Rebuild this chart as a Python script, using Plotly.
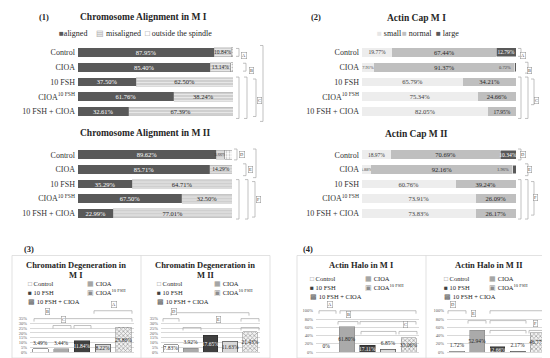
import plotly.graph_objects as go

W, H = 550, 358
FONT = "Liberation Serif"

groups = ["Control", "CIOA", "10 FSH", "CIOA<sup>10 FSH</sup>", "10 FSH + CIOA"]

# Chromosome alignment (%)
ca1_aligned = [87.95, 85.40, 37.50, 61.76, 32.61]
ca1_misaligned = [10.84, 13.14, 62.50, 38.24, 67.39]
ca1_outside = [1.21, 1.46, 0, 0, 0]
ca2_aligned = [89.62, 85.71, 35.29, 67.50, 22.99]
ca2_misaligned = [5.66, 14.29, 64.71, 32.50, 77.01]
ca2_outside = [4.72, 0, 0, 0, 0]

# Actin cap (%)
ac1_small = [19.77, 7.91, 65.79, 75.34, 82.05]
ac1_normal = [67.44, 91.37, 34.21, 24.66, 17.95]
ac1_large = [12.79, 0.72, 0, 0, 0]
ac2_small = [18.97, 5.88, 60.76, 73.91, 73.83]
ac2_normal = [70.69, 92.16, 39.24, 26.09, 26.17]
ac2_large = [10.34, 1.96, 0, 0, 0]

# Chromatin degeneration (%)
cd1 = [3.49, 3.44, 11.84, 8.22, 25.86]
cd2 = [7.83, 3.92, 17.65, 11.63, 21.43]
# Actin halo (%)
ah1 = [0, 61.80, 17.11, 6.85, 35.06]
ah2 = [1.72, 52.94, 12.66, 2.17, 46.77]


def px(x):
    return x / W


def py(y):
    return 1 - y / H


axes_spec = {
    1: ([70, 225], [35.5, 110.5]),
    2: ([70, 224], [139.5, 213.5]),
    3: ([354, 508], [35.5, 110.5]),
    4: ([354, 508], [139.5, 213.5]),
    5: ([22, 126], [313, 347]),
    6: ([153, 252], [313, 347]),
    7: ([308, 411], [305, 347]),
    8: ([439, 540], [305, 347]),
}

fig = go.Figure()


def fmt(v):
    return "0%" if v == 0 else f"{v:.2f}%"


def tsize(v):
    return 6.5 if v >= 20 else (5.5 if v >= 10 else 4.5)


def hstack(n, series):
    for vals, color, pattern, tcol, min_label, line in series:
        pts = [(g, v) for g, v in zip(groups, vals) if v > 0]
        ys = [g for g, _ in pts]
        xs = [v for _, v in pts]
        labelled = [min_label is not None and v > min_label for v in xs]
        kw = {}
        if any(labelled):
            kw = dict(
                text=[fmt(v) if ok else "" for v, ok in zip(xs, labelled)],
                textposition=["inside" if ok else "none" for ok in labelled],
                insidetextanchor="middle", constraintext="none", textangle=0,
                insidetextfont=dict(size=[tsize(v) for v in xs], color=tcol, family=FONT),
            )
        fig.add_trace(go.Bar(
            y=ys, x=xs, orientation="h", width=0.6,
            xaxis=f"x{n}", yaxis=f"y{n}",
            marker=dict(color=color, pattern=pattern, line=line),
            hoverinfo="x+y", showlegend=False, **kw,
        ))


aligned_c = "#595959"
mis_pat = dict(shape="-", fgcolor="#ffffff", bgcolor="#cfcfcf", size=3, solidity=0.35)
out_pat = dict(shape=".", fgcolor="#808080", bgcolor="#ffffff", size=3, solidity=0.3)
noline = dict(width=0)
outline = dict(width=0.5, color="#7f7f7f")
misline = dict(width=0.4, color="#a6a6a6")

hstack(1, [
    (ca1_aligned, aligned_c, None, "white", 0, noline),
    (ca1_misaligned, "#cfcfcf", mis_pat, "#262626", 0, misline),
    (ca1_outside, "#ffffff", out_pat, "#262626", None, outline),
])
hstack(2, [
    (ca2_aligned, aligned_c, None, "white", 0, noline),
    (ca2_misaligned, "#cfcfcf", mis_pat, "#262626", 0, misline),
    (ca2_outside, "#ffffff", out_pat, "#262626", None, outline),
])
small_c, normal_c, large_c = "#ededed", "#bfbfbf", "#595959"
hstack(3, [
    (ac1_small, small_c, None, "#404040", 0, noline),
    (ac1_normal, normal_c, None, "#262626", 0, noline),
    (ac1_large, large_c, None, "white", 5, dict(width=0.5, color="white")),
])
hstack(4, [
    (ac2_small, small_c, None, "#404040", 0, noline),
    (ac2_normal, normal_c, None, "#262626", 0, noline),
    (ac2_large, large_c, None, "white", 5, dict(width=0.5, color="white")),
])

bstyles = [
    dict(color="white", line=dict(color="#7f7f7f", width=0.8)),
    dict(color="#a6a6a6", line=dict(color="#7f7f7f", width=0.5),
         pattern=dict(shape="|", fgcolor="#bdbdbd", bgcolor="#a6a6a6", size=2, solidity=0.3)),
    dict(color="#404040", line=dict(color="#262626", width=0.5)),
    dict(color="#d9d9d9", line=dict(color="#595959", width=0.8)),
    dict(color="#d9d9d9", line=dict(color="#7f7f7f", width=0.5),
         pattern=dict(shape="x", fgcolor="#595959", bgcolor="#f2f2f2", size=3, solidity=0.45)),
]
btext = ["#262626", "#262626", "white", "#262626", "#262626"]


def vbars(n, vals, thresh):
    for i, (g, v) in enumerate(zip(groups, vals)):
        fig.add_trace(go.Bar(
            x=[g], y=[v], width=0.74, xaxis=f"x{n}", yaxis=f"y{n}",
            marker=bstyles[i], text=[fmt(v)],
            textposition="inside" if v >= thresh else "outside",
            textangle=0, insidetextanchor="middle", constraintext="none",
            insidetextfont=dict(size=5.5, color=btext[i], family=FONT),
            outsidetextfont=dict(size=5.5, color="#262626", family=FONT),
            cliponaxis=False, showlegend=False,
        ))


vbars(5, cd1, 7)
vbars(6, cd2, 7)
vbars(7, ah1, 12)
vbars(8, ah2, 12)

layout = dict(
    width=W, height=H, margin=dict(l=0, r=0, t=0, b=0),
    paper_bgcolor="white", plot_bgcolor="white", barmode="stack",
    showlegend=False, font=dict(family=FONT, color="#262626"),
)
for n, (xd, yd) in axes_spec.items():
    xa = dict(domain=[px(xd[0]), px(xd[1])], anchor=f"y{n}")
    ya = dict(domain=[py(yd[1]), py(yd[0])], anchor=f"x{n}")
    if n <= 4:
        xa.update(range=[0, 100], visible=False, fixedrange=True)
        ya.update(type="category", categoryorder="array", categoryarray=groups,
                  autorange="reversed", showgrid=False, ticks="",
                  tickfont=dict(size=8, color="#333333", family=FONT), ticklabelstandoff=2)
    else:
        xa.update(type="category", categoryorder="array", categoryarray=groups,
                  range=[-0.5, 4.5], showticklabels=False, showgrid=False,
                  showline=True, linecolor="#d9d9d9", linewidth=0.8, ticks="")
        if n in (5, 6):
            ya.update(range=[0, 35], dtick=5)
        else:
            ya.update(range=[0, 100], dtick=20)
        ya.update(ticksuffix="%", tickfont=dict(size=4.5, color="#595959", family=FONT),
                  gridcolor="#d9d9d9", gridwidth=0.6, zeroline=False, showline=False,
                  ticks="", ticklabelstandoff=2)
    key = "" if n == 1 else str(n)
    layout["xaxis" + key] = xa
    layout["yaxis" + key] = ya
fig.update_layout(**layout)

shapes = []
annots = []
BR = dict(color="#a6a6a6", width=0.7)


def line(x0, y0, x1, y1, ln=BR):
    shapes.append(dict(type="line", xref="paper", yref="paper",
                       x0=px(x0), y0=py(y0), x1=px(x1), y1=py(y1), line=ln))


def vbr(x, y1, y2, t=3):
    line(x - t, y1, x, y1)
    line(x, y1, x, y2)
    line(x, y2, x - t, y2)


def hbr(x1, x2, y, t=3):
    line(x1, y + t, x1, y)
    line(x1, y, x2, y)
    line(x2, y, x2, y + t)


def letter(s, x, y):
    annots.append(dict(text=s, x=px(x), y=py(y), xref="paper", yref="paper",
                       showarrow=False, font=dict(size=4.5, color="#404040", family=FONT),
                       bordercolor="#8c8c8c", borderwidth=0.5, borderpad=0.5, bgcolor="white"))


def text(s, x, y, size=7, xanchor="left", color="#262626"):
    annots.append(dict(text=s, x=px(x), y=py(y), xref="paper", yref="paper",
                       showarrow=False, xanchor=xanchor, yanchor="middle",
                       font=dict(size=size, color=color, family=FONT)))


# significance brackets, panel (1)
vbr(231, 39, 47); letter("A", 236, 43)
vbr(238, 54, 62); letter("B", 243, 58)
vbr(231, 68, 110); vbr(239, 68, 110)
vbr(248, 70, 108); letter("C", 251, 88)
vbr(255, 36, 113)
vbr(229, 141, 152); letter("D", 234, 147)
vbr(238, 156, 168); letter("E", 242, 162)
vbr(248, 141, 170)
vbr(231, 172, 212); vbr(240, 172, 212)
vbr(247, 174, 210); letter("F", 250, 192)
# panel (2)
vbr(513, 39, 47); letter("A", 518, 43)
vbr(520, 53, 64); letter("B", 524, 58)
vbr(513, 68, 110); vbr(520, 68, 110)
vbr(526, 70, 96); letter("C", 531, 88)
vbr(513, 141, 152); letter("D", 518, 147)
vbr(520, 156, 168); letter("E", 524, 162)
vbr(513, 172, 212); vbr(520, 172, 212)
vbr(526, 174, 208); letter("F", 530, 190)
# panel (3)
hbr(26, 124, 313); letter("B", 37, 309)
hbr(86, 124, 305); letter("A", 103, 302)
hbr(45, 63, 320); letter("C", 53, 317)
hbr(66, 83, 320)
hbr(155, 171, 313); letter("D", 163, 309)
hbr(163, 241, 307)
hbr(175, 193, 322); letter("E", 211, 317)
hbr(233, 251, 313); hbr(233, 251, 322)
# panel (4)
hbr(311, 328, 305); letter("A", 322, 302)
hbr(332, 408, 305)
hbr(330, 350, 316); letter("B", 340, 312)
hbr(352, 408, 316)
hbr(353, 388, 326); hbr(391, 409, 326); letter("C", 400, 322)
hbr(440, 458, 305); letter("D", 448, 302)
hbr(482, 538, 305)
hbr(460, 478, 315); letter("E", 468, 311)
hbr(482, 518, 315)
hbr(482, 518, 325); hbr(521, 538, 325); letter("F", 530, 321)

# boxes around panels (3) and (4)
BOX = dict(color="#d9d9d9", width=0.8)
for x0, x1, xm in [(4, 262, 133), (289, 545, 418)]:
    shapes.append(dict(type="rect", xref="paper", yref="paper", x0=px(x0), x1=px(x1),
                       y0=py(353), y1=py(249), line=BOX))
    line(xm, 249, xm, 353, BOX)


def title(s, x, y, size=9.5):
    text(f"<b>{s}</b>", x, y, size=size, xanchor="center")


title("(1)", 36, 7, 8.5)
title("(2)", 308, 7, 8.5)
title("(3)", 21, 242, 8.5)
title("(4)", 300, 242, 8.5)
title("Chromosome Alignment in M I", 135, 7)
title("Chromosome Alignment in M II", 137, 125)
title("Actin Cap M I", 408, 8)
title("Actin Cap M II", 408, 126)
title("Chromatin Degeneration in", 68, 259, 8.5)
title("M I", 68, 269, 8.5)
title("Chromatin Degeneration in", 197, 259, 8.5)
title("M II", 197, 269, 8.5)
title("Actin Halo in M I", 353, 259, 8.5)
title("Actin Halo in M II", 481, 259, 8.5)


def sym(ch, color):
    return f'<span style="color:{color}">{ch}</span>'


# top legends
text(sym("■", "#595959") + "aligned", 49, 24, 8)
text(sym("▤", "#a6a6a6") + " misaligned", 86, 24, 8)
text(sym("□", "#8c8c8c") + " outside the spindle", 135, 24, 8)
text(sym("■", "#e6e6e6") + " small", 367, 24, 8)
text(sym("■", "#bfbfbf") + " normal", 392, 24, 8)
text(sym("■", "#595959") + " large", 426, 24, 8)

# bottom legends
lsym = [sym("□", "#7f7f7f"), sym("▦", "#8c8c8c"), sym("■", "#404040"),
        sym("▣", "#8c8c8c"), sym("▩", "#595959")]
for xl, xr, rows in [(18, 77, (277, 286, 296)), (147, 204, (277, 286, 296)),
                     (300, 355, (272, 281, 291)), (434, 479, (272, 281, 291))]:
    for i, g in enumerate(groups):
        xx = xl if i % 2 == 0 else xr
        text(lsym[i] + " " + g, xx, rows[i // 2], 6.5)

# small labels for the thin "large" segments in Actin Cap (data coords)
for n, sm, nm, lg in [(3, ac1_small, ac1_normal, ac1_large), (4, ac2_small, ac2_normal, ac2_large)]:
    for g, s, m, l in zip(groups, sm, nm, lg):
        if 0 < l < 5:
            annots.append(dict(text=fmt(l), x=s + m, y=g, xref=f"x{n}", yref=f"y{n}",
                               xanchor="right", xshift=-2, showarrow=False,
                               font=dict(size=4.5, color="#404040", family=FONT)))

fig.update_layout(shapes=shapes, annotations=annots)
fig.write_html("out.html")
